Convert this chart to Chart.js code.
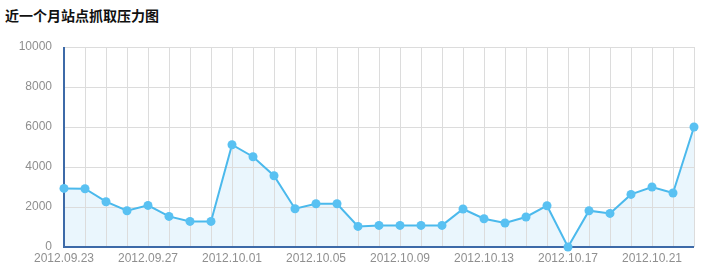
<!DOCTYPE html>
<html><head><meta charset="utf-8">
<script src="https://cdn.jsdelivr.net/npm/chart.js@4/dist/chart.umd.min.js"></script>
<style>
html,body{margin:0;padding:0;background:#fff;}
#wrap{position:relative;width:708px;height:272px;}
#title{position:absolute;left:5px;top:5px;font:bold 14px "Noto Sans CJK SC",sans-serif;color:#111;line-height:20px;}
canvas{position:absolute;left:0;top:0;}
</style></head>
<body><div id="wrap"><div id="title">近一个月站点抓取压力图</div><canvas id="c" width="708" height="272"></canvas></div>
<script>
const categories = ["2012.09.23","2012.09.24","2012.09.25","2012.09.26","2012.09.27","2012.09.28","2012.09.29","2012.09.30",
"2012.10.01","2012.10.02","2012.10.03","2012.10.04","2012.10.05","2012.10.06","2012.10.07","2012.10.08","2012.10.09",
"2012.10.10","2012.10.11","2012.10.12","2012.10.13","2012.10.14","2012.10.15","2012.10.16","2012.10.17","2012.10.18",
"2012.10.19","2012.10.20","2012.10.21","2012.10.22","2012.10.23"];
const pressure = [2930,2915,2265,1815,2080,1530,1280,1280,5115,4515,3565,1915,2165,2165,1030,1080,1080,1080,1080,1900,
1415,1200,1500,2065,0,1815,1680,2630,3000,2700,6000];
const yTicks = [0,2000,4000,6000,8000,10000];

const axisLines = {
  id: 'axisLines',
  beforeDatasetsDraw(chart) {
    const { ctx, chartArea: a } = chart;
    ctx.save();
    ctx.strokeStyle = '#3d6aa8';
    ctx.lineWidth = 2;
    ctx.beginPath();
    ctx.moveTo(a.left, a.top);
    ctx.lineTo(a.left, a.bottom);
    ctx.lineTo(a.right, a.bottom);
    ctx.stroke();
    ctx.restore();
  }
};

new Chart(document.getElementById('c'), {
  type: 'line',
  plugins: [axisLines],
  data: { labels: categories, datasets: [{
    data: pressure,
    borderColor: '#4bb9ec', borderWidth: 2,
    backgroundColor: '#eaf6fd', fill: 'origin',
    pointRadius: 4.5, pointBackgroundColor: '#59c1f2', pointBorderWidth: 0,
    tension: 0, clip: false
  }]},
  options: {
    responsive: false, animation: false,
    layout: { padding: { left: 0, right: 14, top: 47, bottom: 0 } },
    plugins: { legend: { display: false }, tooltip: { enabled: false }, filler: { drawTime: 'beforeDraw' } },
    scales: {
      x: {
        grid: { color: c => c.index === 0 ? 'rgba(0,0,0,0)' : '#dcdcdc', drawTicks: false, lineWidth: 1 },
        border: { display: false },
        ticks: { autoSkip: false, maxRotation: 0, padding: 4, color: '#8f8f8f',
          font: { family: 'Arial, "Liberation Sans"', size: 12 },
          callback: (v, i) => i % 4 === 0 ? categories[i] : '' },
        afterFit: s => { s.height = 25; }
      },
      y: {
        min: 0, max: 10000,
        grid: { color: c => (c.tick && c.tick.value === 0) ? 'rgba(0,0,0,0)' : '#dcdcdc', drawTicks: false },
        border: { display: false },
        afterBuildTicks: s => { s.ticks = yTicks.map(v => ({ value: v })); },
        ticks: { padding: 12, color: '#8f8f8f', font: { family: 'Arial, "Liberation Sans"', size: 12 },
          callback: v => String(v) },
        afterFit: s => { s.width = 64; }
      }
    }
  }
});
</script></body></html>
